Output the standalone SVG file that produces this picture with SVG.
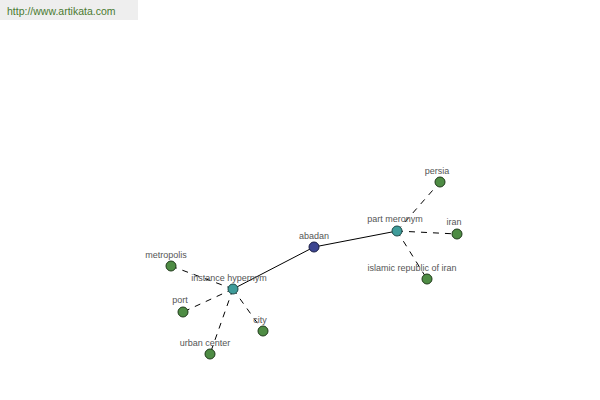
<svg xmlns="http://www.w3.org/2000/svg" width="600" height="400" viewBox="0 0 600 400">
<style>
.lbl{font-family:"Liberation Sans",Arial,sans-serif;font-size:9px;fill:#555;text-anchor:middle}
.leaf{fill:#4e8c44;stroke:#1f3a1a;stroke-width:1}
.hub{fill:#3f9c9a;stroke:#1c4a48;stroke-width:1}
.root{fill:#3c4591;stroke:#1a1e45;stroke-width:1}
.solid{stroke:#000;stroke-width:1;fill:none}
.dash{stroke:#000;stroke-width:1;fill:none;stroke-dasharray:6,6}
</style>
<rect width="600" height="400" fill="#fff"/>
<rect x="0" y="0" width="138" height="20" fill="#eeeeee"/>
<text x="7" y="15" font-family="Liberation Sans,Arial,sans-serif" font-size="10.5" fill="#4a7a30">http://www.artikata.com</text>
<g id="connectors">
<line class="solid" x1="314" y1="247" x2="397" y2="231"/>
<line class="solid" x1="314" y1="247" x2="233" y2="289"/>
<line class="dash" x1="397" y1="231" x2="440" y2="182"/>
<line class="dash" x1="397" y1="231" x2="457" y2="234"/>
<line class="dash" x1="397" y1="231" x2="427" y2="279"/>
<line class="dash" x1="233" y1="289" x2="171" y2="266"/>
<line class="dash" x1="233" y1="289" x2="183" y2="312"/>
<line class="dash" x1="233" y1="289" x2="263" y2="331"/>
<line class="dash" x1="233" y1="289" x2="210" y2="354"/>
</g>
<g id="abadan"><circle class="root" cx="314" cy="247" r="5"/><text class="lbl" x="314" y="239">abadan</text></g>
<g id="part-meronym"><circle class="hub" cx="397" cy="231" r="5"/><text class="lbl" x="395" y="222">part meronym</text></g>
<g id="instance-hypernym"><circle class="hub" cx="233" cy="289" r="5"/><text class="lbl" x="229" y="281">instance hypernym</text></g>
<g id="persia"><circle class="leaf" cx="440" cy="182" r="5"/><text class="lbl" x="437" y="174">persia</text></g>
<g id="iran"><circle class="leaf" cx="457" cy="234" r="5"/><text class="lbl" x="454" y="225">iran</text></g>
<g id="islamic-republic-of-iran"><circle class="leaf" cx="427" cy="279" r="5"/><text class="lbl" x="412" y="271">islamic republic of iran</text></g>
<g id="metropolis"><circle class="leaf" cx="171" cy="266" r="5"/><text class="lbl" x="166" y="258">metropolis</text></g>
<g id="port"><circle class="leaf" cx="183" cy="312" r="5"/><text class="lbl" x="180" y="303">port</text></g>
<g id="city"><circle class="leaf" cx="263" cy="331" r="5"/><text class="lbl" x="260" y="323">city</text></g>
<g id="urban-center"><circle class="leaf" cx="210" cy="354" r="5"/><text class="lbl" x="205" y="346">urban center</text></g>
</svg>
